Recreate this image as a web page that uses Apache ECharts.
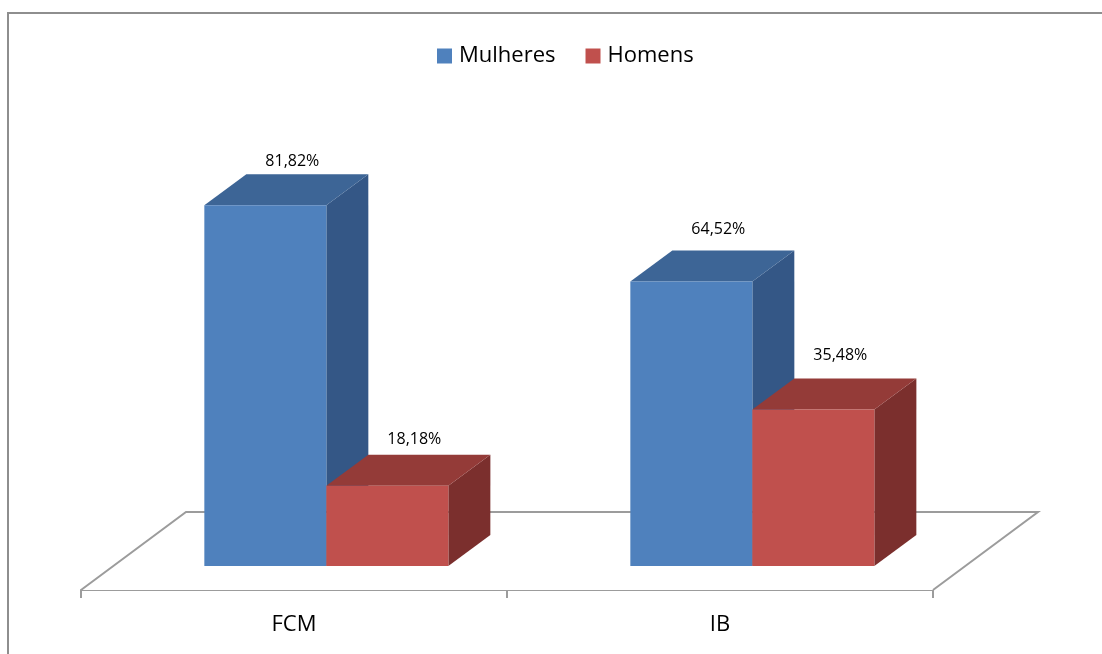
<!DOCTYPE html>
<html>
<head>
<meta charset="utf-8">
<script src="https://cdn.jsdelivr.net/npm/echarts@6/dist/echarts.min.js"></script>
<style>
html,body{margin:0;padding:0;background:#fff;}
#chart{width:1102px;height:654px;}
</style>
</head>
<body>
<div id="chart"></div>
<script>
var categories = ['FCM', 'IB'];
var mulheres = [81.82, 64.52];
var homens = [18.18, 35.48];
var seriesNames = ['Mulheres', 'Homens'];

var FONT = '"Open Sans", "Liberation Sans", sans-serif';
var FLOOR_DX = 105, FLOOR_DY = -78;       // floor depth vector
var FRONT_FRAC = 0.308;                   // bar front plane position within floor depth
var BAR_DX = 42, BAR_DY = -31;            // bar depth vector
var BAR_FRAC = 0.2864;                    // bar width / category band

var palettes = [
  {front: '#4f81bd', top: '#3d6596', side: '#345786'},
  {front: '#c0504d', top: '#943b38', side: '#7b2f2d'}
];

function fmt(v) { return v.toFixed(2).replace('.', ',') + '%'; }

function barRenderer(sIdx) {
  return function (params, api) {
    var idx = api.value(0);
    var val = api.value(1);
    var band = api.size([1, 0])[0];
    var base = api.coord([idx, 0]);
    var topPt = api.coord([idx, val]);
    var w = band * BAR_FRAC;
    var ox = FLOOR_DX * FRONT_FRAC, oy = FLOOR_DY * FRONT_FRAC;
    var x0 = sIdx === 0 ? base[0] + ox - w : base[0] + ox;
    var x1 = x0 + w;
    var yb = base[1] + oy;
    var yt = topPt[1] + oy;
    var p = palettes[sIdx];
    var cx = (x0 + x1) / 2 + BAR_DX / 2 + 6;
    var ly = yt + BAR_DY - (13 + 0.018 * ((x0 + x1) / 2 - 265));
    return {
      type: 'group',
      children: [
        {type: 'polygon', shape: {points: [[x1, yb], [x1 + BAR_DX, yb + BAR_DY], [x1 + BAR_DX, yt + BAR_DY], [x1, yt]]},
          style: {fill: p.side}},
        {type: 'polygon', shape: {points: [[x0, yt], [x0 + BAR_DX, yt + BAR_DY], [x1 + BAR_DX, yt + BAR_DY], [x1, yt]]},
          style: {fill: p.top}},
        {type: 'rect', shape: {x: x0, y: yt, width: w, height: yb - yt}, style: {fill: p.front}},
        {type: 'text', x: cx, y: ly, style: {text: fmt(val), fill: '#000', font: '16px ' + FONT, align: 'center', verticalAlign: 'middle'}}
      ]
    };
  };
}

function floorRenderer(params, api) {
  var cs = params.coordSys;
  var xl = cs.x, xr = cs.x + cs.width, y = cs.y + cs.height;
  return {
    type: 'polyline',
    shape: {points: [[xl, y], [xl + FLOOR_DX, y + FLOOR_DY], [xr + FLOOR_DX, y + FLOOR_DY], [xr, y]]},
    style: {fill: '#fff', stroke: '#9c9c9c', lineWidth: 2}
  };
}

var chart = echarts.init(document.getElementById('chart'), null, {renderer: 'canvas'});
chart.setOption({
  animation: false,
  backgroundColor: '#fff',
  graphic: [{
    type: 'rect', z: -10,
    shape: {x: 8, y: 13, width: 1200, height: 800},
    style: {fill: '#fff', stroke: '#8e8e8e', lineWidth: 2}
  }],
  legend: {
    left: 432, top: 40,
    itemWidth: 15, itemHeight: 15, itemGap: 30,
    icon: 'rect',
    textStyle: {fontFamily: FONT, fontSize: 22, color: '#000', padding: [0, 0, 0, 2]},
    data: seriesNames
  },
  grid: {left: 81, right: 169, top: 149, bottom: 64},
  xAxis: {
    type: 'category',
    data: categories,
    axisLine: {show: true, lineStyle: {color: '#9c9c9c', width: 2}},
    axisTick: {show: true, interval: 0, alignWithLabel: false, length: 8, lineStyle: {color: '#9c9c9c', width: 2}},
    axisLabel: {fontFamily: FONT, fontSize: 22, color: '#000', margin: 24}
  },
  yAxis: {type: 'value', min: 0, max: 100, show: false, splitLine: {show: false}},
  series: [
    {type: 'custom', name: 'floor', z: 1, renderItem: floorRenderer, data: [[0, 0]], silent: true},
    {type: 'custom', name: seriesNames[0], z: 2, itemStyle: {color: palettes[0].front},
      renderItem: barRenderer(0), data: mulheres.map(function (v, i) { return [i, v]; })},
    {type: 'custom', name: seriesNames[1], z: 3, itemStyle: {color: palettes[1].front},
      renderItem: barRenderer(1), data: homens.map(function (v, i) { return [i, v]; })}
  ]
});
</script>
</body>
</html>
